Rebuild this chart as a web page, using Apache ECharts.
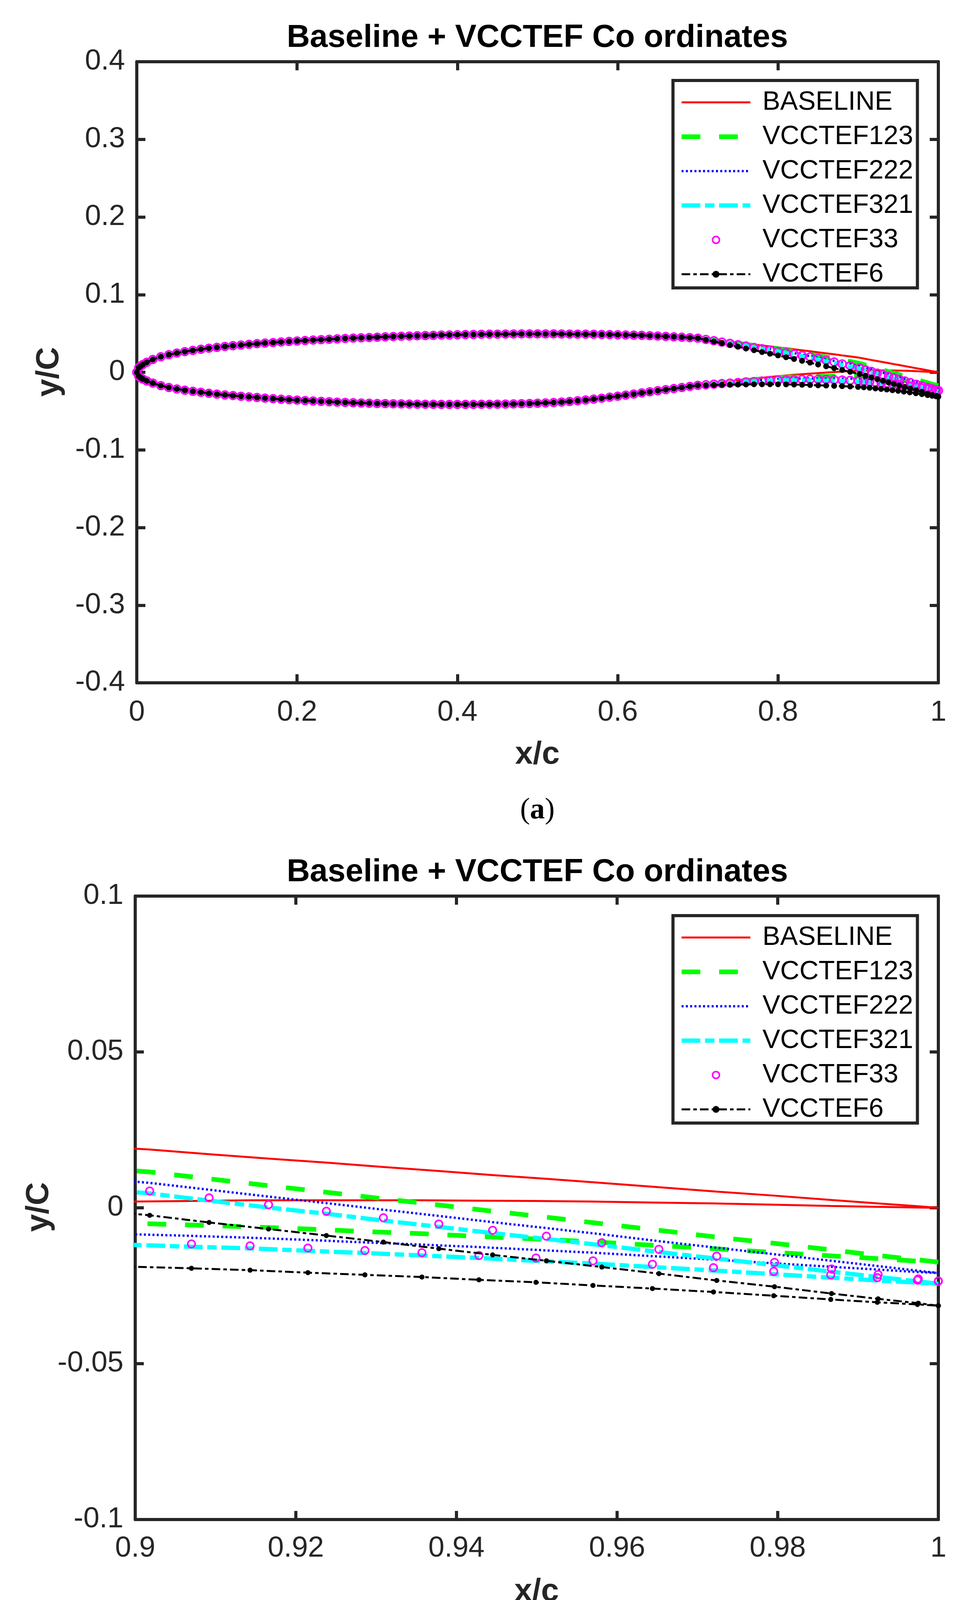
<!DOCTYPE html>
<html>
<head>
<meta charset="utf-8">
<script src="https://cdn.jsdelivr.net/npm/echarts@6/dist/echarts.min.js"></script>
<style>
html,body{margin:0;padding:0;background:#fff;}
#chart{width:2482px;height:4292px;}
</style>
</head>
<body>
<div id="chart"></div>
<script>
// ---------- DATA ----------
const seriesNames = ['BASELINE', 'VCCTEF123', 'VCCTEF222', 'VCCTEF321', 'VCCTEF33', 'VCCTEF6'];
const titleText = 'Baseline + VCCTEF Co ordinates';
const xTicksA = [0, 0.2, 0.4, 0.6, 0.8, 1];
const yTicksA = [-0.4, -0.3, -0.2, -0.1, 0, 0.1, 0.2, 0.3, 0.4];
const xTicksB = [0.9, 0.92, 0.94, 0.96, 0.98, 1];
const yTicksB = [-0.1, -0.05, 0, 0.05, 0.1];

// chord stations shared by all shapes (leading edge to x = 0.70)
const stationsFwd = [0, 0.0025, 0.005, 0.0075, 0.0125, 0.02,
  0.03, 0.04, 0.05, 0.06, 0.07, 0.08, 0.09, 0.10,
  0.11, 0.12, 0.13, 0.14, 0.15, 0.16, 0.17, 0.18, 0.19, 0.20,
  0.21, 0.22, 0.23, 0.24, 0.25, 0.26, 0.27, 0.28, 0.29, 0.30,
  0.31, 0.32, 0.33, 0.34, 0.35, 0.36, 0.37, 0.38, 0.39, 0.40,
  0.41, 0.42, 0.43, 0.44, 0.45, 0.46, 0.47, 0.48, 0.49, 0.50,
  0.51, 0.52, 0.53, 0.54, 0.55, 0.56, 0.57, 0.58, 0.59, 0.60,
  0.61, 0.62, 0.63, 0.64, 0.65, 0.66, 0.67, 0.68, 0.69, 0.70];
const fwdUpperY = [0, 0.0060, 0.0082, 0.0099, 0.0128, 0.0165,
  0.0200, 0.0226, 0.0248, 0.0266, 0.0282, 0.0297, 0.0310, 0.0321,
  0.0332, 0.0342, 0.0351, 0.0360, 0.0368, 0.0376, 0.0383, 0.0390, 0.0397, 0.0403,
  0.0409, 0.0415, 0.0420, 0.0425, 0.0430, 0.0435, 0.0440, 0.0444, 0.0448, 0.0452,
  0.0456, 0.0460, 0.0464, 0.0467, 0.0470, 0.0473, 0.0476, 0.0479, 0.0481, 0.0483,
  0.0485, 0.0487, 0.0489, 0.0490, 0.0491, 0.0492, 0.0493, 0.0494, 0.0494, 0.0494,
  0.0494, 0.0494, 0.0493, 0.0492, 0.0491, 0.0490, 0.0489, 0.0487, 0.0485, 0.0483,
  0.0481, 0.0478, 0.0475, 0.0471, 0.0467, 0.0462, 0.0457, 0.0451, 0.0445, 0.0439];
const fwdLowerY = [0, -0.0052, -0.0072, -0.0087, -0.0112, -0.0140,
  -0.0172, -0.0196, -0.0215, -0.0231, -0.0245, -0.0258, -0.0271, -0.0282,
  -0.0292, -0.0300, -0.0309, -0.0317, -0.0325, -0.0333, -0.0340, -0.0347, -0.0353, -0.0359,
  -0.0365, -0.0370, -0.0375, -0.0380, -0.0385, -0.0389, -0.0393, -0.0396, -0.0399, -0.0402,
  -0.0404, -0.0406, -0.0408, -0.0410, -0.0411, -0.0412, -0.0413, -0.0414, -0.0414, -0.0414,
  -0.0414, -0.0414, -0.0413, -0.0412, -0.0411, -0.0410, -0.0408, -0.0405, -0.0402, -0.0399,
  -0.0395, -0.0390, -0.0384, -0.0376, -0.0367, -0.0357, -0.0346, -0.0334, -0.0321, -0.0308,
  -0.0294, -0.0280, -0.0266, -0.0252, -0.0238, -0.0224, -0.0210, -0.0196, -0.0182, -0.0169];

// flap region stations
const stationsAft = [0.71, 0.72, 0.73, 0.74, 0.75, 0.76, 0.77, 0.78, 0.79, 0.80,
  0.81, 0.82, 0.83, 0.84, 0.85, 0.86, 0.87, 0.88, 0.89];
const upperTailX = [0.9018, 0.9092, 0.9166, 0.9238, 0.9309, 0.9378, 0.9445, 0.9512,
  0.9581, 0.9652, 0.9724, 0.9796, 0.9867, 0.9925, 0.9975, 1.0];
const lowerTailX = [0.8998, 0.9070, 0.9143, 0.9215, 0.9286, 0.9357, 0.9428, 0.9499,
  0.9570, 0.9644, 0.9720, 0.9795, 0.9866, 0.9924, 0.9974, 1.0];

// y/C over stationsAft followed by the tail stations
const baselineUpperAft = [0.0428, 0.0417, 0.0405, 0.0393, 0.0381, 0.0369, 0.0357, 0.0345, 0.0333, 0.0321,
  0.0309, 0.0296, 0.0283, 0.0270, 0.0257, 0.0244, 0.0231, 0.0217, 0.0204,
  0.0187, 0.0172, 0.0158, 0.0145, 0.0131, 0.0118, 0.0105, 0.0093, 0.0080, 0.0066, 0.0052, 0.0039, 0.0025, 0.0014, 0.0005, 0];
const baselineLowerAft = [-0.0156, -0.0143, -0.0130, -0.0118, -0.0106, -0.0094, -0.0082, -0.0071, -0.0060, -0.0050,
  -0.0041, -0.0033, -0.0025, -0.0018, -0.0011, -0.0004, 0.0003, 0.0009, 0.0015,
  0.0020, 0.0022, 0.0024, 0.0024, 0.0024, 0.0024, 0.0023, 0.0022, 0.0020, 0.0017, 0.0014, 0.0010, 0.0006, 0.0003, 0.0001, 0];

const v123UpperAft = [0.0426, 0.0414, 0.0400, 0.0386, 0.0372, 0.0359, 0.0345, 0.0331, 0.0317, 0.0304,
  0.0286, 0.0268, 0.0250, 0.0232, 0.0213, 0.0195, 0.0177, 0.0158, 0.0139,
  0.0115, 0.0093, 0.0071, 0.0050, 0.0029, 0.0009, -0.0011, -0.0030, -0.0051, -0.0072, -0.0094, -0.0114, -0.0135, -0.0153, -0.0167, -0.0174];
const v123LowerAft = [-0.0158, -0.0147, -0.0135, -0.0125, -0.0115, -0.0105, -0.0094, -0.0085, -0.0076, -0.0068,
  -0.0064, -0.0061, -0.0058, -0.0056, -0.0055, -0.0053, -0.0051, -0.0050, -0.0050,
  -0.0050, -0.0055, -0.0061, -0.0068, -0.0076, -0.0083, -0.0092, -0.0100, -0.0109, -0.0120, -0.0131, -0.0143, -0.0154, -0.0163, -0.0171, -0.0174];

const v222UpperAft = [0.0425, 0.0410, 0.0395, 0.0379, 0.0364, 0.0348, 0.0333, 0.0317, 0.0302, 0.0286,
  0.0267, 0.0247, 0.0227, 0.0207, 0.0187, 0.0167, 0.0147, 0.0126, 0.0106,
  0.0080, 0.0058, 0.0036, 0.0015, -0.0006, -0.0026, -0.0046, -0.0065, -0.0085, -0.0107, -0.0128, -0.0149, -0.0170, -0.0187, -0.0202, -0.0209];
const v222LowerAft = [-0.0160, -0.0150, -0.0141, -0.0132, -0.0124, -0.0115, -0.0106, -0.0099, -0.0091, -0.0085,
  -0.0083, -0.0082, -0.0081, -0.0081, -0.0081, -0.0081, -0.0081, -0.0082, -0.0083,
  -0.0085, -0.0090, -0.0096, -0.0103, -0.0111, -0.0118, -0.0126, -0.0135, -0.0144, -0.0155, -0.0166, -0.0178, -0.0189, -0.0198, -0.0206, -0.0209];

const v321UpperAft = [0.0423, 0.0406, 0.0389, 0.0372, 0.0355, 0.0338, 0.0320, 0.0303, 0.0286, 0.0269,
  0.0248, 0.0226, 0.0205, 0.0183, 0.0161, 0.0139, 0.0118, 0.0095, 0.0073,
  0.0046, 0.0023, 0.0001, -0.0019, -0.0041, -0.0061, -0.0081, -0.0100, -0.0120, -0.0142, -0.0163, -0.0184, -0.0205, -0.0222, -0.0236, -0.0244];
const v321LowerAft = [-0.0161, -0.0154, -0.0146, -0.0139, -0.0132, -0.0125, -0.0119, -0.0113, -0.0107, -0.0102,
  -0.0102, -0.0103, -0.0104, -0.0105, -0.0107, -0.0109, -0.0110, -0.0113, -0.0116,
  -0.0119, -0.0125, -0.0130, -0.0138, -0.0145, -0.0153, -0.0161, -0.0170, -0.0179, -0.0190, -0.0201, -0.0213, -0.0224, -0.0233, -0.0240, -0.0244];

const v33UpperAft = [0.0423, 0.0406, 0.0389, 0.0372, 0.0355, 0.0338, 0.0320, 0.0303, 0.0286, 0.0269,
  0.0251, 0.0233, 0.0215, 0.0197, 0.0179, 0.0155, 0.0132, 0.0107, 0.0084,
  0.0054, 0.0032, 0.0010, -0.0011, -0.0032, -0.0052, -0.0072, -0.0091, -0.0112, -0.0133, -0.0155, -0.0175, -0.0196, -0.0214, -0.0228, -0.0235];
const v33LowerAft = [-0.0161, -0.0154, -0.0146, -0.0139, -0.0132, -0.0125, -0.0119, -0.0113, -0.0107, -0.0102,
  -0.0099, -0.0096, -0.0093, -0.0091, -0.0090, -0.0093, -0.0096, -0.0101, -0.0105,
  -0.0111, -0.0116, -0.0122, -0.0129, -0.0137, -0.0144, -0.0153, -0.0161, -0.0170, -0.0181, -0.0192, -0.0204, -0.0215, -0.0224, -0.0232, -0.0235];

const v6UpperAft = [0.0418, 0.0396, 0.0374, 0.0351, 0.0329, 0.0306, 0.0284, 0.0261, 0.0239, 0.0217,
  0.0194, 0.0171, 0.0147, 0.0124, 0.0100, 0.0077, 0.0053, 0.0029, 0.0005,
  -0.0024, -0.0047, -0.0068, -0.0089, -0.0110, -0.0131, -0.0151, -0.0170, -0.0190, -0.0211, -0.0233, -0.0253, -0.0275, -0.0292, -0.0306, -0.0314];
const v6LowerAft = [-0.0167, -0.0164, -0.0161, -0.0160, -0.0158, -0.0157, -0.0155, -0.0155, -0.0154, -0.0155,
  -0.0156, -0.0158, -0.0161, -0.0164, -0.0168, -0.0171, -0.0175, -0.0179, -0.0184,
  -0.0189, -0.0194, -0.0200, -0.0208, -0.0215, -0.0222, -0.0231, -0.0239, -0.0249, -0.0259, -0.0270, -0.0282, -0.0294, -0.0303, -0.0310, -0.0314];

// ---------- BUILD ----------
function contour(upperAft, lowerAft) {
  const ux = stationsFwd.concat(stationsAft, upperTailX);
  const uy = fwdUpperY.concat(upperAft);
  const lx = stationsFwd.concat(stationsAft, lowerTailX);
  const ly = fwdLowerY.concat(lowerAft);
  const pts = [];
  for (let i = ux.length - 1; i >= 0; i--) pts.push([ux[i], uy[i]]);
  for (let i = 1; i < lx.length; i++) pts.push([lx[i], ly[i]]);
  return pts;
}
const shapes = [
  contour(baselineUpperAft, baselineLowerAft),
  contour(v123UpperAft, v123LowerAft),
  contour(v222UpperAft, v222LowerAft),
  contour(v321UpperAft, v321LowerAft),
  contour(v33UpperAft, v33LowerAft),
  contour(v6UpperAft, v6LowerAft)
];

const AX = '#262626';
const FONT = 'Liberation Sans';
const styles = [
  {color: '#ff0000', line: {width: 5, type: 'solid'}, symbol: 'none'},
  {color: '#00ff00', line: {width: 12, type: [48, 48]}, symbol: 'none'},
  {color: '#0000ff', line: {width: 6, type: [5, 6]}, symbol: 'none'},
  {color: '#00ffff', line: {width: 11, type: [48, 12, 24, 12]}, symbol: 'none'},
  {color: '#ff00ff', line: {width: 0, type: 'solid', opacity: 0}, symbol: 'circle', size: [20, 19],
   item: {color: 'rgba(255,0,255,0)', borderColor: '#ff00ff', borderWidth: 4}},
  {color: '#000000', line: {width: 5, type: [22, 8, 9, 8]}, symbol: 'circle', size: [15, 13],
   item: {color: '#000000'}}
];

function makeSeries(g) {
  return seriesNames.map((name, i) => {
    const st = styles[i];
    const s = {
      name, type: 'line', xAxisIndex: g * 2, yAxisIndex: g * 2,
      data: shapes[i], color: st.color, smooth: false, clip: true,
      lineStyle: Object.assign({color: st.color}, st.line),
      symbol: st.symbol, showSymbol: st.symbol !== 'none',
      emphasis: {disabled: true}, silent: true, z: 2 + i
    };
    if (st.size) s.symbolSize = st.size[g];
    if (st.item) s.itemStyle = st.item;
    return s;
  });
}

function axisPair(dim, g, min, max, interval, labelMargin) {
  const common = {
    type: 'value', gridIndex: g, min, max, interval,
    axisLine: {show: true, onZero: false, lineStyle: {color: AX, width: 8}},
    axisTick: {show: true, inside: true, length: 22, lineStyle: {color: AX, width: 8}},
    splitLine: {show: false}
  };
  const main = Object.assign({}, common, {
    position: dim === 'x' ? 'bottom' : 'left',
    axisLabel: {show: true, margin: labelMargin, fontSize: 74, color: AX, fontFamily: FONT}
  });
  const mirror = Object.assign({}, common, {
    position: dim === 'x' ? 'top' : 'right',
    axisLabel: {show: false}
  });
  return [main, mirror];
}

const legendData = seriesNames.map((name, i) => {
  const st = styles[i];
  const d = {name, lineStyle: {width: st.line.width}};
  if (st.symbol === 'none') d.itemStyle = {opacity: 0};
  else d.itemStyle = Object.assign({opacity: 1, borderWidth: 0}, st.item);
  if (i === 4) d.lineStyle = {width: 0, opacity: 0};
  return d;
});

function makeLegend(top) {
  return {
    show: true, orient: 'vertical', left: 1722, top: top,
    data: legendData, selectedMode: false,
    itemWidth: 176, itemHeight: 22, itemGap: 18,
    padding: [21, 11, 0, 16],
    backgroundColor: '#ffffff', borderColor: AX, borderWidth: 8,
    textStyle: {fontSize: 68, lineHeight: 70, color: '#000', fontFamily: FONT, padding: [0, 0, 0, 26]},
    z: 20
  };
}

function txt(x, y, text, opts) {
  return Object.assign({
    type: 'text', x, y, z: 30, silent: true,
    style: Object.assign({
      text, fill: '#262626', fontFamily: FONT, fontSize: 82, fontWeight: 'bold',
      align: 'center', verticalAlign: 'middle', textAlign: 'center', textVerticalAlign: 'middle'
    }, opts && opts.style)
  }, opts && opts.el);
}
function panelLabel(x, y, letter) {
  return {
    type: 'text', x, y, z: 30, silent: true,
    style: {
      text: '{p|(}{b|' + letter + '}{p|)}',
      align: 'center', verticalAlign: 'middle', textAlign: 'center', textVerticalAlign: 'middle',
      fill: '#000',
      rich: {
        p: {fontFamily: 'Liberation Serif', fontSize: 76, fill: '#000', color: '#000'},
        b: {fontFamily: 'Liberation Serif', fontSize: 76, fontWeight: 'bold', fill: '#000', color: '#000'}
      }
    }
  };
}

const xa = axisPair('x', 0, xTicksA[0], xTicksA[xTicksA.length - 1], 0.2, 40);
const ya = axisPair('y', 0, yTicksA[0], yTicksA[yTicksA.length - 1], 0.1, 30);
const xb = axisPair('x', 1, xTicksB[0], xTicksB[xTicksB.length - 1], 0.02, 38);
const yb = axisPair('y', 1, yTicksB[0], yTicksB[yTicksB.length - 1], 0.05, 30);

const option = {
  animation: false,
  backgroundColor: '#ffffff',
  title: [
    {text: titleText, left: 1375, top: 56, textAlign: 'center', padding: 0,
     textStyle: {fontSize: 82, fontWeight: 'bold', color: '#000', fontFamily: FONT, lineHeight: 82}},
    {text: titleText, left: 1375, top: 2192, textAlign: 'center', padding: 0,
     textStyle: {fontSize: 82, fontWeight: 'bold', color: '#000', fontFamily: FONT, lineHeight: 82}}
  ],
  grid: [
    {left: 350, top: 158, width: 2051, height: 1590, containLabel: false},
    {left: 346, top: 2294, width: 2055, height: 1596, containLabel: false}
  ],
  xAxis: [xa[0], xa[1], xb[0], xb[1]],
  yAxis: [ya[0], ya[1], yb[0], yb[1]],
  legend: [makeLegend(206), makeLegend(2344)],
  series: makeSeries(0).concat(makeSeries(1)),
  graphic: [
    txt(1375, 1932, 'x/c'),
    txt(126, 952, 'y/C', {el: {rotation: Math.PI / 2}}),
    panelLabel(1375, 2075, 'a'),
    txt(1373, 4075, 'x/c'),
    txt(100, 3090, 'y/C', {el: {rotation: Math.PI / 2}}),
    panelLabel(1373, 4244, 'b')
  ]
};

const chart = echarts.init(document.getElementById('chart'), null, {renderer: 'canvas', width: 2482, height: 4292});
chart.setOption(option);
</script>
</body>
</html>
